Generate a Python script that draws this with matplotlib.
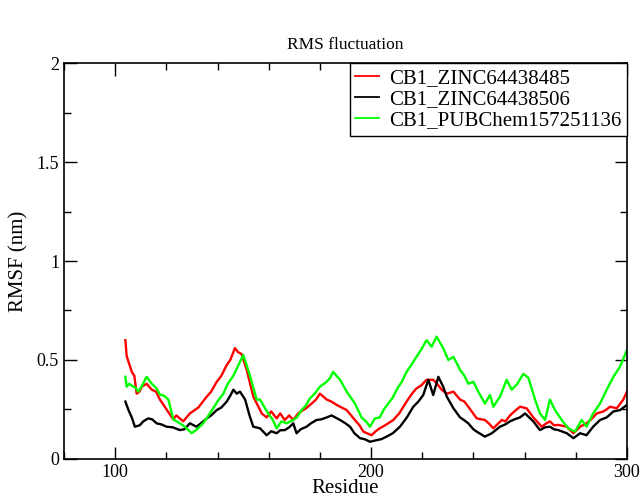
import matplotlib
matplotlib.use("Agg")
import matplotlib.pyplot as plt
from matplotlib.ticker import MultipleLocator

# RMSF readings (residue, nm) for each complex
red_x = [104, 104.5, 105.5, 106.5, 107.5, 108.4, 109.5, 110.4, 112.3, 114.3, 116, 117.5, 120.1,
         122.7, 123.9, 126.6, 129.2, 132.5, 135.8, 137.5, 139.7, 141.5, 143.6, 145, 146.8, 148,
         149.4, 151.4, 154.0, 157.3, 159.2, 161, 163.1, 164.5, 166.3, 168, 169.6, 171.5, 173.5,
         175, 176.8, 178.5, 180.0, 182.7, 184.5, 186.6, 188.5, 190.5, 193.7, 195.5, 197.0, 200.2,
         201.8, 203.4, 205.5, 208.7, 211, 213.9, 216, 217.8, 219.5, 221.7, 224.3, 225.8, 227.6,
         229.6, 232.2, 234.8, 236.5, 238.0, 241.3, 244.5, 246, 247.8, 251.1, 252.5, 254.3, 256,
         258.2, 260.8, 263.4, 266.7, 268.5, 269.9, 271.5, 273.2, 276.5, 279.1, 281.7, 284.2,
         286, 288.2, 290.8, 292, 293.4, 296.0, 298.6, 300]
red_y = [0.60, 0.52, 0.48, 0.44, 0.42, 0.33, 0.34, 0.365, 0.38, 0.35, 0.34, 0.30, 0.25, 0.20,
         0.22, 0.19, 0.23, 0.26, 0.315, 0.34, 0.39, 0.42, 0.475, 0.50, 0.56, 0.54, 0.53, 0.45,
         0.315, 0.23, 0.21, 0.24, 0.205, 0.23, 0.197, 0.22, 0.197, 0.23, 0.247, 0.26, 0.28,
         0.30, 0.33, 0.30, 0.29, 0.273, 0.26, 0.247, 0.197, 0.17, 0.138, 0.12, 0.14, 0.155,
         0.17, 0.197, 0.23, 0.29, 0.33, 0.357, 0.37, 0.40, 0.40, 0.38, 0.35, 0.33, 0.34, 0.30,
         0.29, 0.264, 0.205, 0.197, 0.18, 0.155, 0.197, 0.19, 0.22, 0.24, 0.264, 0.256, 0.21,
         0.163, 0.18, 0.19, 0.17, 0.172, 0.163, 0.13, 0.163, 0.18, 0.20, 0.23, 0.24, 0.25,
         0.264, 0.256, 0.30, 0.34]

black_x = [104, 105.2, 106.5, 107.7, 109.6, 111, 112.9, 114.5, 116.2, 118, 120.1, 122.5,
           125.3, 127, 129.2, 131.8, 133.5, 135.8, 137.5, 139.7, 141.5, 143.6, 145, 146.2,
           147.5, 148.8, 150.8, 152.5, 154.0, 156.6, 159.2, 161, 163.1, 164.5, 166.3, 168,
           169.6, 170.9, 172.5, 174.8, 176.5, 178.7, 180.5, 182.7, 184.6, 186, 187.9, 190,
           191.8, 193.5, 195.7, 197.5, 199.6, 202.2, 204, 206.1, 208.5, 211.3, 214, 216.5,
           218.5, 220.4, 222.4, 224.3, 226.3, 228.2, 229.6, 232.2, 234.8, 236.5, 238.0,
           240, 241.3, 244.5, 247.2, 250.4, 252.5, 254.3, 256, 258.2, 260.2, 261.8, 263.4,
           266.0, 268, 269.9, 271.5, 273.2, 276.5, 279.1, 281.7, 284.2, 286.8, 289.5, 292.1,
           294.7, 297.3, 300]
black_y = [0.29, 0.247, 0.21, 0.163, 0.17, 0.19, 0.205, 0.20, 0.18, 0.175, 0.163, 0.16, 0.146,
           0.15, 0.18, 0.163, 0.18, 0.205, 0.22, 0.247, 0.26, 0.29, 0.32, 0.35, 0.33, 0.34,
           0.30, 0.22, 0.163, 0.155, 0.12, 0.14, 0.13, 0.145, 0.146, 0.16, 0.18, 0.13, 0.15,
           0.163, 0.18, 0.197, 0.20, 0.21, 0.22, 0.21, 0.197, 0.18, 0.163, 0.13, 0.105, 0.10,
           0.087, 0.095, 0.10, 0.113, 0.13, 0.163, 0.21, 0.264, 0.29, 0.323, 0.40, 0.323,
           0.415, 0.365, 0.315, 0.256, 0.21, 0.195, 0.18, 0.15, 0.138, 0.113, 0.13, 0.163,
           0.175, 0.19, 0.20, 0.21, 0.23, 0.21, 0.19, 0.146, 0.16, 0.163, 0.15, 0.146, 0.13,
           0.105, 0.13, 0.12, 0.163, 0.197, 0.21, 0.24, 0.247, 0.273]

green_x = [104, 104.5, 105.5, 106.5, 108, 109.0, 110.5, 112.3, 114.3, 116, 117.5, 119,
           120.8, 122.7, 125.3, 127.5, 129.9, 132, 134.4, 136.5, 138.3, 140.5, 142.3, 144,
           146.2, 148, 150.1, 152.7, 155.3, 156.6, 158.6, 159.8, 161.5, 163.1, 165, 167.0,
           169.6, 171, 172.9, 174.5, 176.1, 178, 180.0, 182.7, 184, 185.2, 186.5, 187.9,
           190.5, 193.7, 196.3, 198, 199.6, 201.5, 203.4, 205, 206.7, 208.5, 210.0, 212,
           213.9, 216, 217.8, 219.5, 221.7, 223.7, 225.6, 228.2, 230.2, 232.2, 234.8, 236.5,
           238.0, 240.0, 241.9, 244.5, 246.5, 247.8, 250.4, 253.0, 255.0, 257.2, 259.5,
           261.5, 264.1, 266.0, 268.0, 269.9, 271.9, 274.5, 277.1, 279.7, 282.3, 284.2,
           286.8, 289.5, 292.1, 294.7, 297.3, 300]
green_y = [0.415, 0.365, 0.38, 0.37, 0.36, 0.34, 0.37, 0.415, 0.38, 0.36, 0.325, 0.32, 0.30,
           0.20, 0.18, 0.16, 0.13, 0.15, 0.18, 0.22, 0.256, 0.30, 0.33, 0.38, 0.42, 0.47,
           0.525, 0.42, 0.30, 0.30, 0.256, 0.23, 0.20, 0.155, 0.19, 0.18, 0.197, 0.21, 0.247,
           0.27, 0.306, 0.33, 0.365, 0.39, 0.41, 0.44, 0.42, 0.40, 0.34, 0.28, 0.21, 0.19,
           0.163, 0.205, 0.21, 0.25, 0.28, 0.31, 0.35, 0.39, 0.44, 0.48, 0.517, 0.55, 0.60,
           0.567, 0.618, 0.56, 0.50, 0.516, 0.45, 0.42, 0.38, 0.39, 0.34, 0.28, 0.323, 0.264,
           0.315, 0.40, 0.35, 0.38, 0.43, 0.41, 0.30, 0.23, 0.197, 0.30, 0.247, 0.197, 0.155,
           0.138, 0.197, 0.163, 0.23, 0.28, 0.35, 0.415, 0.466, 0.55]

labels = ["CB1_ZINC64438485", "CB1_ZINC64438506", "CB1_PUBChem157251136"]
colors = ["#ff0000", "#000000", "#00ff00"]

plt.rcParams["font.family"] = ["Liberation Serif", "DejaVu Serif"]

fig = plt.figure(figsize=(6.43, 4.99), dpi=100)
ax = fig.add_axes([0.0995, 0.0802, 0.8755, 0.7935])

for xs, ys, lab, col in zip([red_x, black_x, green_x], [red_y, black_y, green_y], labels, colors):
    ax.plot(xs, ys, color=col, lw=1.7, label=lab)

ax.set_xlim(80, 300)
ax.set_ylim(0, 2)
ax.xaxis.set_major_locator(MultipleLocator(100))
ax.xaxis.set_minor_locator(MultipleLocator(20))
ax.yaxis.set_major_locator(MultipleLocator(0.5))
ax.yaxis.set_minor_locator(MultipleLocator(0.25))
ax.yaxis.set_major_formatter(plt.FuncFormatter(lambda v, p: f"{v:g}"))
ax.tick_params(which="both", direction="in", top=True, right=True, labelsize=13, width=1)
ax.tick_params(which="major", length=9)
ax.tick_params(which="minor", length=5)
for s in ax.spines.values():
    s.set_linewidth(1.2)

ax.set_xlabel("Residue", fontsize=15, labelpad=-1)
ax.set_ylabel("RMSF (nm)", fontsize=15, labelpad=6)
ax.set_title("RMS fluctuation", fontsize=12.5, pad=10)

leg = ax.legend(loc="upper right", borderaxespad=0, fontsize=15, fancybox=False,
                handlelength=1.15, handletextpad=0.5, labelspacing=0.08, borderpad=0.25,
                framealpha=1)
leg.get_frame().set_edgecolor("black")
leg.get_frame().set_linewidth(1.0)
for h in leg.get_lines():
    h.set_linewidth(1.3)

fig.savefig("out.png", dpi=100)
